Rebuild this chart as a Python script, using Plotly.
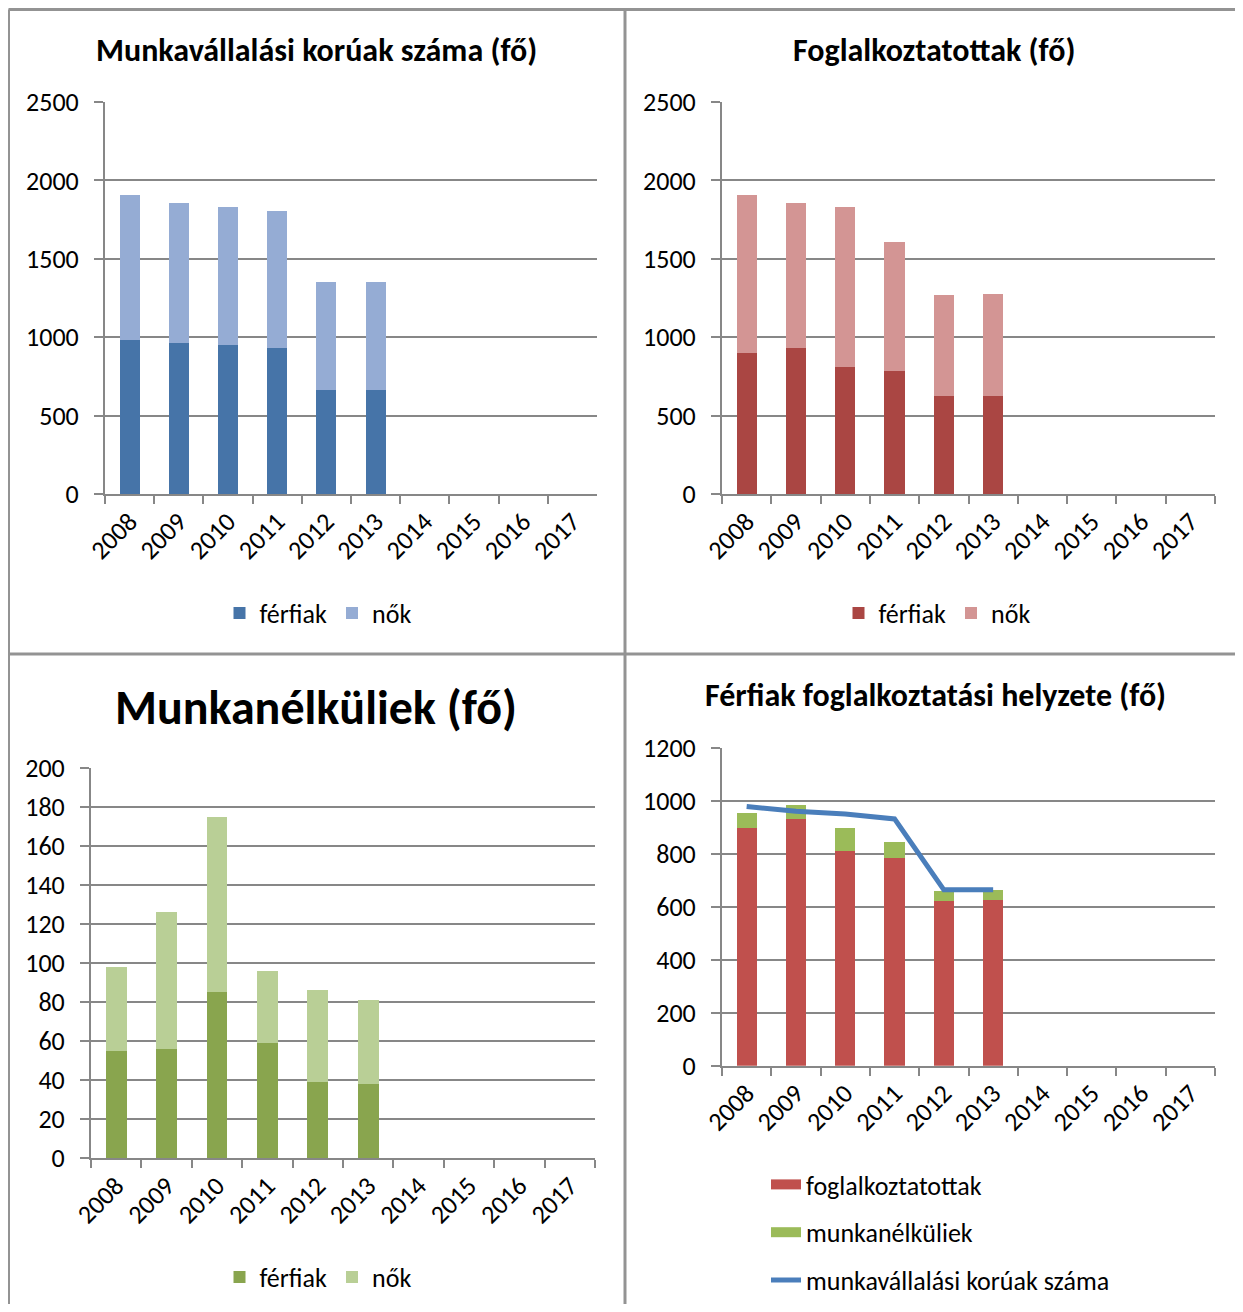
import plotly.graph_objects as go

# ---------------------------------------------------------------------------
# Adatok (leolvasva az abrarol)
# ---------------------------------------------------------------------------
EVEK = ["2008", "2009", "2010", "2011", "2012", "2013",
        "2014", "2015", "2016", "2017"]
EVEK_ADAT = ["2008", "2009", "2010", "2011", "2012", "2013"]

KORUAK_FERFIAK = [980, 962, 952, 933, 665, 665]
KORUAK_NOK = [925, 892, 878, 870, 687, 687]

FOGLALK_FERFIAK = [900, 931, 813, 786, 622, 625]
FOGLALK_NOK = [1005, 923, 1017, 822, 645, 649]

MUNKANELK_FERFIAK = [55, 56, 85, 59, 39, 38]
MUNKANELK_NOK = [43, 70, 90, 37, 47, 43]

# ---------------------------------------------------------------------------
# Stilus
# ---------------------------------------------------------------------------
FONT = "Carlito, Calibri, Lato, sans-serif"
SZURKE = "#878787"
KERET = "#939393"

KEK, KEK_V = "#4674a8", "#95acd4"
PIROS, PIROS_V = "#aa4643", "#d39594"
ZOLD, ZOLD_V = "#89a54e", "#b9cf96"
FOGL_SZIN = "#c0504d"
MUNK_SZIN = "#9bbb59"
VONAL_SZIN = "#4a7ebb"

TICK_MERET = 26
LEG_MERET = 26

W, H, OFF = 1227, 1296, 8


def px(x):
    return (x - OFF) / W


def py(y):
    return 1 - (y - OFF) / H


fig = go.Figure()


def oszlop(x, y, nev, szin, xa, ya, legend, showlegend=True):
    fig.add_trace(go.Bar(x=x, y=y, name=nev, marker_color=szin, marker_line_width=0,
                         xaxis=xa, yaxis=ya, legend=legend, legendgroup=nev + xa,
                         showlegend=showlegend))


# 1. Munkavallalasi koruak
oszlop(EVEK_ADAT, KORUAK_FERFIAK, "férfiak", KEK, "x", "y", "legend")
oszlop(EVEK_ADAT, KORUAK_NOK, "nők", KEK_V, "x", "y", "legend")
# 2. Foglalkoztatottak
oszlop(EVEK_ADAT, FOGLALK_FERFIAK, "férfiak", PIROS, "x2", "y2", "legend2")
oszlop(EVEK_ADAT, FOGLALK_NOK, "nők", PIROS_V, "x2", "y2", "legend2")
# 3. Munkanelkuliek
oszlop(EVEK_ADAT, MUNKANELK_FERFIAK, "férfiak", ZOLD, "x3", "y3", "legend3")
oszlop(EVEK_ADAT, MUNKANELK_NOK, "nők", ZOLD_V, "x3", "y3", "legend3")
# 4. Ferfiak foglalkoztatasi helyzete
oszlop(EVEK_ADAT, FOGLALK_FERFIAK, "foglalkoztatottak", FOGL_SZIN, "x4", "y4",
       "legend4", showlegend=False)
oszlop(EVEK_ADAT, MUNKANELK_FERFIAK, "munkanélküliek", MUNK_SZIN, "x4", "y4",
       "legend4", showlegend=False)
fig.add_trace(go.Scatter(x=EVEK_ADAT, y=KORUAK_FERFIAK, name="munkavállalási korúak száma",
                         mode="lines", line=dict(color=VONAL_SZIN, width=5),
                         xaxis="x4", yaxis="y4", legend="legend4",
                         legendgroup="vonal", showlegend=False))

# a 4. panel jelmagyarazata szeles teglalap jelekkel (mint az eredetin)
for nev, szin, vastag in [("foglalkoztatottak", FOGL_SZIN, 15),
                          ("munkanélküliek", MUNK_SZIN, 15),
                          ("munkavállalási korúak száma", VONAL_SZIN, 5)]:
    fig.add_trace(go.Scatter(x=[None], y=[None], name=nev, mode="lines",
                             line=dict(color=szin, width=vastag),
                             xaxis="x4", yaxis="y4", legend="legend4",
                             legendgroup=nev + "x4", hoverinfo="skip"))


def x_tengely(x0, x1):
    return dict(domain=[px(x0), px(x1)], type="category", categoryorder="array",
                categoryarray=EVEK, range=[-0.5, 9.5], tickangle=-45,
                ticks="outside", tickson="boundaries", ticklen=8, tickwidth=2,
                tickcolor=SZURKE, showline=True, linecolor=SZURKE, linewidth=2,
                showgrid=False, tickfont=dict(size=TICK_MERET, color="black"),
                automargin=False, fixedrange=True)


def y_tengely(y_top, y_bottom, felso, lepes, standoff):
    return dict(domain=[py(y_bottom), py(y_top)], range=[0, felso], dtick=lepes,
                showgrid=True, gridcolor=SZURKE, gridwidth=2, zeroline=False,
                showline=True, linecolor=SZURKE, linewidth=2, ticks="outside",
                ticklen=9, tickwidth=2, tickcolor=SZURKE, ticklabelstandoff=standoff,
                tickfont=dict(size=TICK_MERET, color="black"), automargin=False,
                fixedrange=True)


def vizszintes_legend(cx, cy):
    return dict(x=px(cx), y=py(cy), xanchor="center", yanchor="middle",
                orientation="h", traceorder="normal", font=dict(size=LEG_MERET),
                bgcolor="rgba(0,0,0,0)", itemwidth=30)


fig.update_layout(
    width=W, height=H, margin=dict(l=0, r=0, t=0, b=0, autoexpand=False),
    paper_bgcolor="white", plot_bgcolor="white",
    font=dict(family=FONT, color="black"),
    barmode="stack", bargap=0.59,
    xaxis=dict(x_tengely(105, 597), anchor="y"),
    yaxis=dict(y_tengely(102, 494, 2500, 500, 10), anchor="x"),
    xaxis2=dict(x_tengely(722, 1215), anchor="y2"),
    yaxis2=dict(y_tengely(102, 494, 2500, 500, 10), anchor="x2"),
    xaxis3=dict(x_tengely(91, 595), anchor="y3"),
    yaxis3=dict(y_tengely(767.7, 1158.3, 200, 20, 10), anchor="x3"),
    xaxis4=dict(x_tengely(722, 1215), anchor="y4"),
    yaxis4=dict(y_tengely(748.3, 1065.7, 1200, 200, 10), anchor="x4"),
    legend=vizszintes_legend(318, 613),
    legend2=vizszintes_legend(937, 613),
    legend3=vizszintes_legend(318, 1277),
    legend4=dict(x=px(766), y=py(1161), xanchor="left", yanchor="top",
                 orientation="v", traceorder="grouped", tracegroupgap=11,
                 font=dict(size=LEG_MERET), bgcolor="rgba(0,0,0,0)"),
)

# Cimek
CIMEK = [
    ("Munkavállalási korúak száma (fő)", 316, 50, 32),
    ("Foglalkoztatottak (fő)", 934, 50, 32),
    ("Munkanélküliek (fő)", 316, 707, 48),
    ("Férfiak foglalkoztatási helyzete (fő)", 935, 695, 32),
]
for szoveg, cx, cy, meret in CIMEK:
    fig.add_annotation(text=f"<b>{szoveg}</b>", x=px(cx), y=py(cy), xref="paper",
                       yref="paper", showarrow=False, xanchor="center",
                       yanchor="middle", font=dict(size=meret, color="black"))

# Panelek keretei
keret = dict(type="line", xref="paper", yref="paper", line=dict(color=KERET, width=3))
fig.add_shape(keret, x0=px(8.5), x1=px(1260), y0=py(9.5), y1=py(9.5))
fig.add_shape(keret, x0=px(8.5), x1=px(8.5), y0=py(9.5), y1=py(1320))
fig.add_shape(keret, x0=px(625), x1=px(625), y0=py(9.5), y1=py(1320))
fig.add_shape(keret, x0=px(8.5), x1=px(1260), y0=py(654), y1=py(654))

fig.write_html("out.html")
